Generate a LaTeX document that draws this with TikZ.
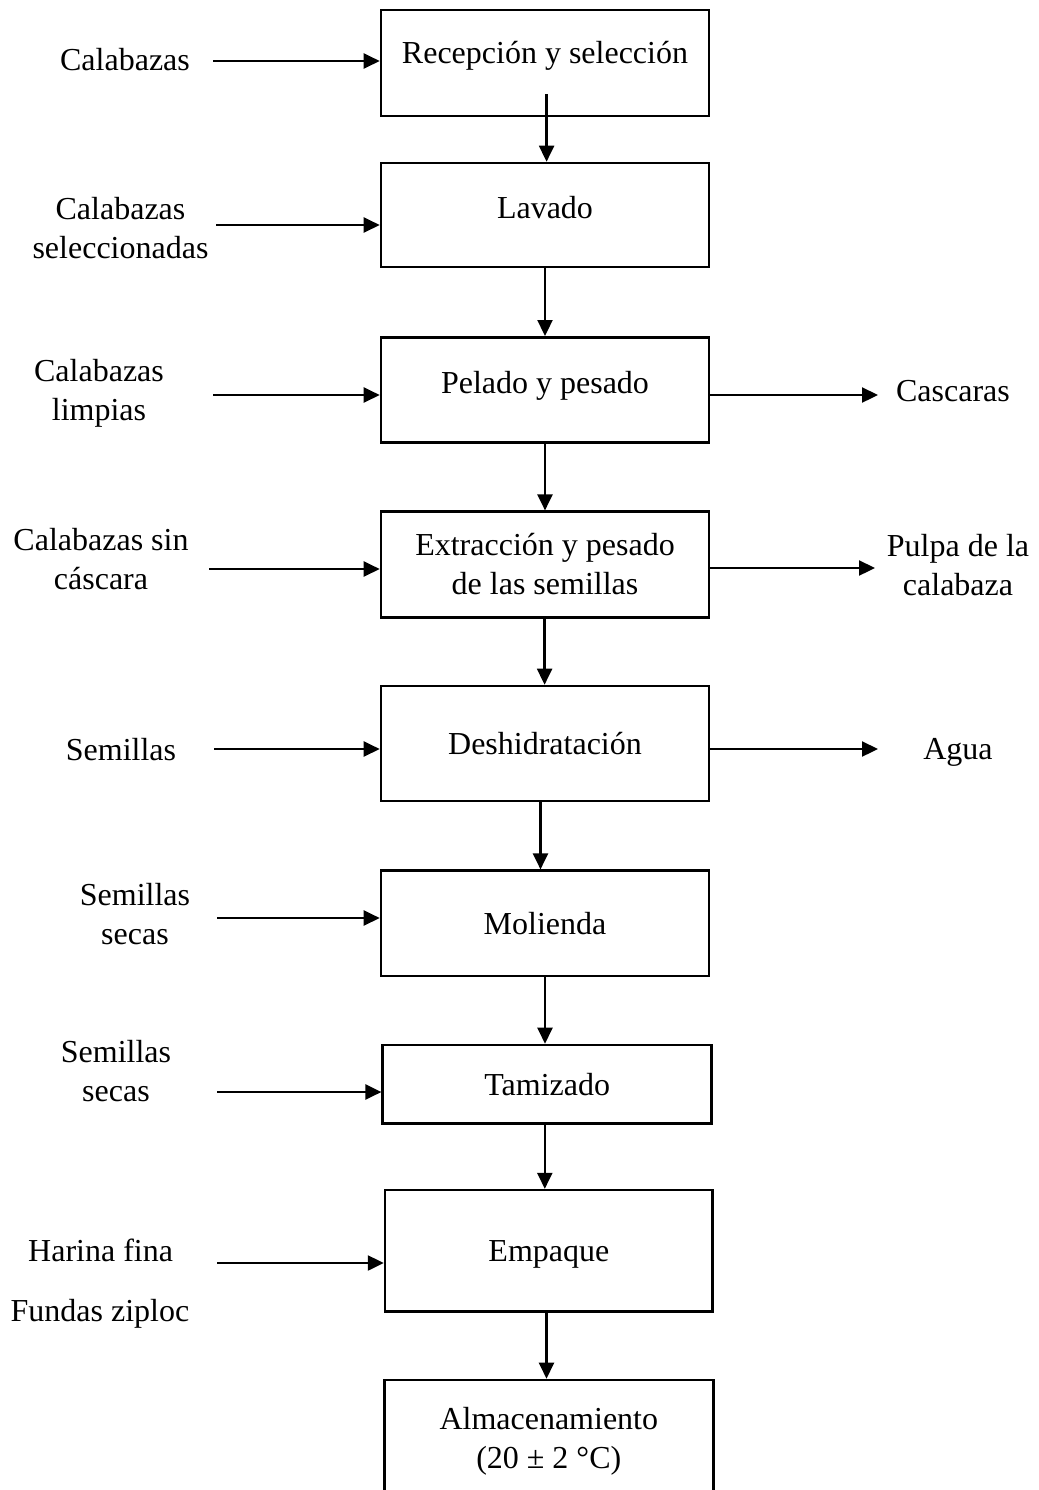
\documentclass[tikz,border=0pt]{standalone}
\usepackage{fontspec}
\setmainfont{Liberation Serif}
\usetikzlibrary{arrows.meta,positioning}

\tikzset{
  proc/.style={draw, line width=1.3pt, minimum width=164pt, minimum height=#1, inner sep=0pt, align=center},
  proc/.default=52.5pt,
  raised/.style={text height=0.7em, text depth=0.35em},
  flow/.style={-{Triangle[length=8pt,width=7.5pt]}, line width=1.15pt},
  lbl/.style={anchor=base, align=center, inner sep=0pt}
}

\begin{document}
\begin{tikzpicture}[x=0.5pt, y=-0.5pt, font=\fontsize{16}{19.5}\selectfont]
\fill[white] (0,0) rectangle (1039,1490);
\useasboundingbox (0,0) rectangle (1039,1490);
\clip (0,0) rectangle (1039,1490);

% Etapas del proceso
\node[proc=53pt, raised, text depth=0.7em] (b1) at (545,63) {Recepción y selección};
\node[proc=52pt, raised] (b2) at (545,215) {Lavado};
\node[proc=52.7pt, raised] (b3) at (545,390) {Pelado y pesado};
\node[proc=52.8pt] (b4) at (545,564.5) {Extracción y pesado\\de las semillas};
\node[proc=57.5pt] (b5) at (545,743.5) {Deshidratación};
\node[proc=52.7pt] (b6) at (545,923.4) {Molienda};
\node[proc=39.2pt, minimum width=164.5pt] (b7) at (547.2,1084.2) {Tamizado};
\node[proc=60.8pt, minimum width=163.8pt, text depth=0pt] (b8) at (548.9,1250.9) {Empaque};
\node[proc=61.5pt, minimum width=164.5pt] (b9) at (548.8,1441.5) {Almacenamiento\\(20 ± 2 °C)};

% Entradas (base = ultima linea)
\node[lbl] (l1) at (125,70.7) {Calabazas};
\node[lbl] (l2) at (120.5,258) {Calabazas\\seleccionadas};
\node[lbl] (l3) at (99,420.7) {Calabazas\\limpias};
\node[lbl] (l4) at (101,589.3) {Calabazas sin\\cáscara};
\node[lbl] (l5) at (121,760.7) {Semillas};
\node[lbl] (l6) at (135,944) {Semillas\\secas};
\node[lbl] (l7) at (116,1101.7) {Semillas\\secas};
\node[lbl] (l8) at (100.6,1261) {Harina fina};
\node[lbl] (l9) at (100,1321.7) {Fundas ziploc};

% Salidas
\node[lbl] (r3) at (953,401) {Cascaras};
\node[lbl] (r4) at (958,595) {Pulpa de la\\calabaza};
\node[lbl] (r5) at (958,759.3) {Agua};

% Flechas de entrada
\foreach \n/\x/\y in {1/213/61, 2/216/225, 3/213/395, 4/209/569, 5/214/749, 6/217/918, 7/217/1092, 8/217/1263}{
  \coordinate (in\n) at (\x,\y);
  \draw[flow] (in\n) -- (in\n -| b\n.west);
}

% Flechas de salida
\foreach \n/\x/\y in {3/878/395, 4/875/568, 5/878/749}{
  \coordinate (out\n) at (\x,\y);
  \draw[flow] (out\n -| b\n.east) -- (out\n);
}

% Flujo principal
\draw[flow] ([xshift=0.8pt, yshift=11.5pt]b1.south) -- ([xshift=0.8pt]b2.north);
\draw[flow] (b2) -- (b3);
\draw[flow] (b3) -- (b4);
\draw[flow] ([xshift=-0.2pt]b4.south) -- ([xshift=-0.2pt]b5.north);
\draw[flow] ([xshift=-2.25pt]b5.south) -- ([xshift=-2.25pt]b6.north);
\draw[flow] (b6.south) -- (b6.south |- b7.north);
\draw[flow] ([xshift=-1.2pt]b7.south) -- ([xshift=-1.2pt]b7.south |- b8.north);
\draw[flow] ([xshift=-1.2pt]b8.south) -- ([xshift=-1.2pt]b8.south |- b9.north);

\end{tikzpicture}
\end{document}
